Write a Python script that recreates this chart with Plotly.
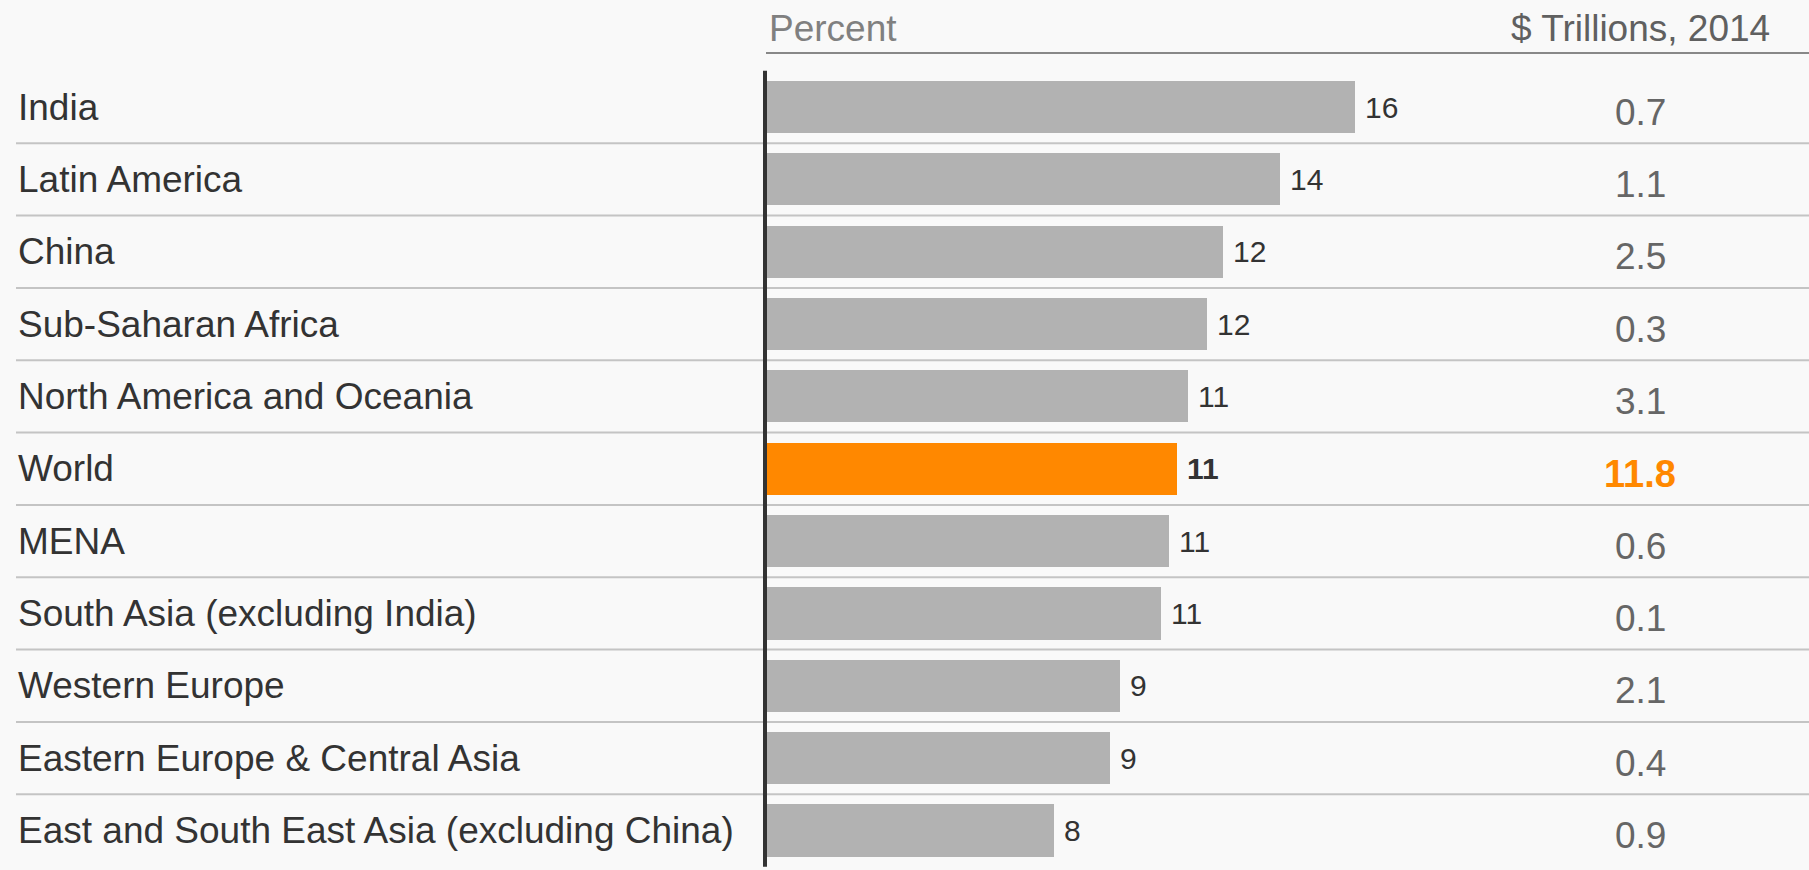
import plotly.graph_objects as go

categories = ["India", "Latin America", "China", "Sub-Saharan Africa",
              "North America and Oceania", "World", "MENA",
              "South Asia (excluding India)", "Western Europe",
              "Eastern Europe & Central Asia",
              "East and South East Asia (excluding China)"]
pct_values = [16.0, 13.95, 12.4, 11.97, 11.46, 11.16, 10.94, 10.72, 9.6, 9.33, 7.81]
pct_labels = ["16", "14", "12", "12", "11", "11", "11", "11", "9", "9", "8"]
trillions_2014 = ["0.7", "1.1", "2.5", "0.3", "3.1", "11.8", "0.6", "0.1", "2.1", "0.4", "0.9"]
highlight = "World"

W, H = 1809, 870
FONT = "Liberation Sans, Arial, sans-serif"
GRAY_BAR = "#b2b2b2"
ORANGE = "#ff8800"

bar_colors = [ORANGE if c == highlight else GRAY_BAR for c in categories]

fig = go.Figure()
fig.add_trace(go.Bar(
    x=pct_values, y=categories, orientation="h",
    marker=dict(color=bar_colors, line=dict(width=0)),
    width=0.72, hoverinfo="skip", showlegend=False,
))

annotations = []
for c, v, lab, t in zip(categories, pct_values, pct_labels, trillions_2014):
    hl = c == highlight
    annotations.append(dict(
        x=16 / W, xref="paper", y=c, yref="y", xanchor="left", yanchor="middle",
        text=c, showarrow=False, font=dict(family=FONT, size=37, color="#333333")))
    annotations.append(dict(
        x=v, xref="x", y=c, yref="y", xanchor="left", yanchor="middle", xshift=8,
        text=f"<b>{lab}</b>" if hl else lab, showarrow=False,
        font=dict(family=FONT, size=30, color="#333333")))
    annotations.append(dict(
        x=1640 / W, xref="paper", y=c, yref="y", xanchor="center", yanchor="middle",
        yshift=-5, text=f"<b>{t}</b>" if hl else t, showarrow=False,
        font=dict(family=FONT, size=38 if hl else 37, color=ORANGE if hl else "#666666")))

annotations.append(dict(x=767 / W, xref="paper", y=1 - 28 / H, yref="paper",
                        xanchor="left", yanchor="middle", text="Percent", showarrow=False,
                        font=dict(family=FONT, size=37, color="#808080")))
annotations.append(dict(x=1640 / W, xref="paper", y=1 - 28 / H, yref="paper",
                        xanchor="center", yanchor="middle", text="$ Trillions, 2014",
                        showarrow=False, font=dict(family=FONT, size=37, color="#606060")))

shapes = []
for i in range(len(categories) - 1):
    shapes.append(dict(type="line", xref="paper", x0=16 / W, x1=1, yref="y",
                       y0=i + 0.5, y1=i + 0.5, line=dict(color="#c4c4c4", width=2), layer="below"))
shapes.append(dict(type="line", xref="paper", x0=766 / W, x1=1, yref="paper",
                   y0=1 - 53 / H, y1=1 - 53 / H, line=dict(color="#888888", width=2)))
shapes.append(dict(type="line", xref="paper", x0=765 / W, x1=765 / W, yref="y",
                   y0=-0.5, y1=10.5, line=dict(color="#333333", width=4)))

x_end = (W - 767) / 36.75
fig.update_layout(
    width=W, height=H,
    margin=dict(l=0, r=0, t=0, b=0),
    paper_bgcolor="#f9f9f9", plot_bgcolor="rgba(0,0,0,0)",
    xaxis=dict(domain=[767 / W, 1], range=[0, x_end], visible=False, fixedrange=True),
    yaxis=dict(type="category", categoryorder="array", categoryarray=categories,
               range=[10.546, -1.479], visible=False, fixedrange=True),
    bargap=0, annotations=annotations, shapes=shapes, hovermode=False,
)

fig.write_html("out.html", config={"displayModeBar": False},
               post_script="document.body.style.margin='0';document.body.style.overflow='hidden';")
